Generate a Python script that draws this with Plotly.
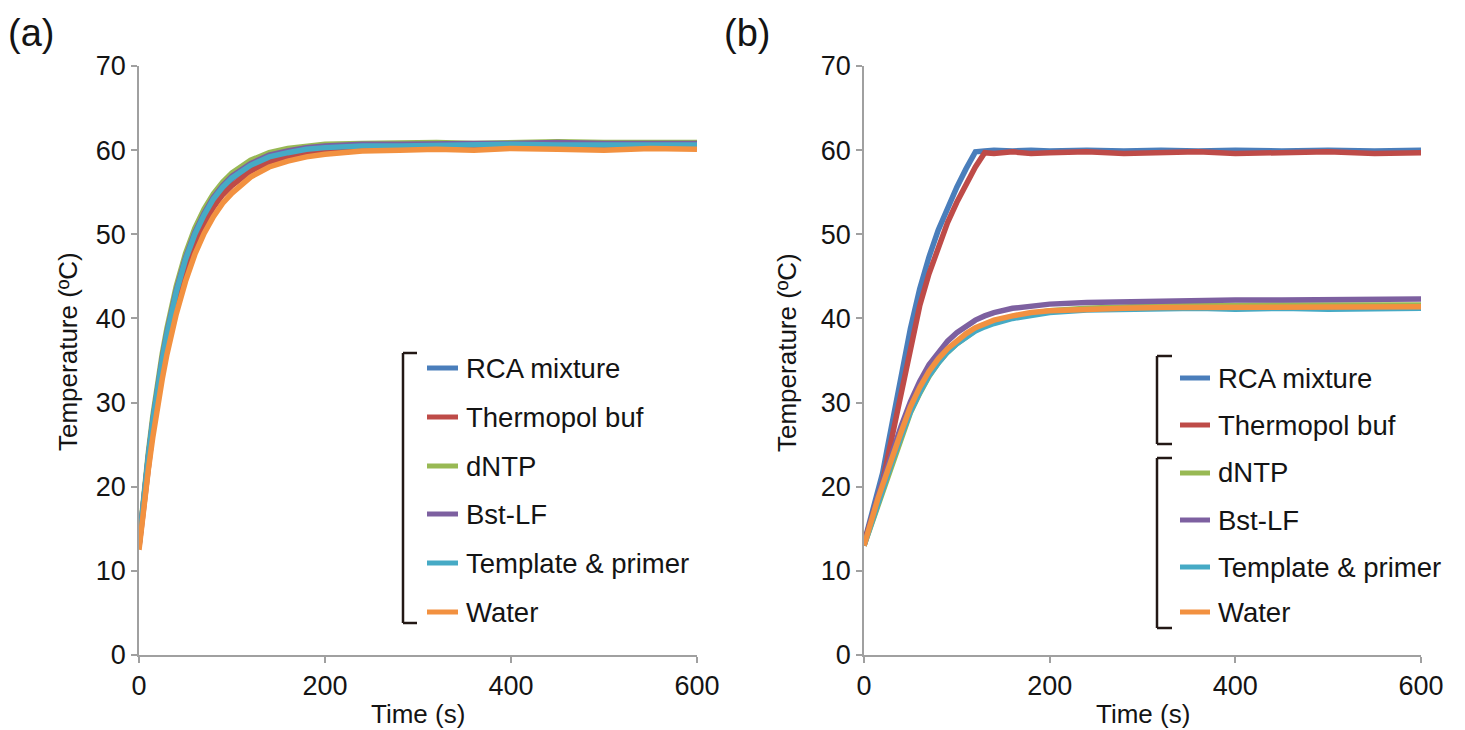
import plotly.graph_objects as go

# Page has an 8px body margin; the figure is offset by it inside the 1465x730 window.
OFF = 8
W, H = 1465 - OFF, 730 - OFF

series_names = ["RCA mixture", "Thermopol buf", "dNTP", "Bst-LF", "Template & primer", "Water"]
colors = ["#4A7EBB", "#BE4B48", "#98B954", "#7D60A0", "#46AAC5", "#F29140"]

# ---------------- Panel (a) data ----------------
time_a = [0, 5, 10, 15, 20, 25, 30, 40, 50, 60, 70, 80, 90, 100, 120, 140, 160, 180, 200,
          240, 280, 320, 360, 400, 450, 500, 550, 600]
a_rca = [13.1, 18.6, 23.4, 27.8, 31.6, 35.0, 38.0, 43.0, 46.9, 49.9, 52.2, 54.1, 55.5, 56.6, 58.1, 59.1, 59.6, 60.0, 60.2,
         60.4, 60.5, 60.5, 60.6, 60.6, 60.6, 60.6, 60.6, 60.6]
a_thermo = [12.8, 18.0, 22.7, 26.9, 30.6, 33.9, 36.9, 41.8, 45.7, 48.8, 51.2, 53.2, 54.7, 55.8, 57.5, 58.6, 59.2, 59.6, 59.9,
            60.2, 60.3, 60.3, 60.4, 60.4, 60.4, 60.3, 60.4, 60.4]
a_dntp = [13.2, 19.0, 24.0, 28.5, 32.4, 35.8, 38.8, 43.8, 47.7, 50.7, 53.0, 54.8, 56.2, 57.3, 58.8, 59.7, 60.2, 60.5, 60.7,
          60.8, 60.9, 60.9, 60.8, 60.9, 61.0, 60.9, 60.9, 60.9]
a_bst = [13.0, 18.7, 23.6, 28.0, 31.9, 35.3, 38.3, 43.3, 47.2, 50.2, 52.5, 54.4, 55.8, 56.9, 58.4, 59.4, 59.9, 60.3, 60.5,
         60.7, 60.7, 60.8, 60.8, 60.8, 60.9, 60.8, 60.8, 60.8]
a_template = [13.0, 18.6, 23.5, 27.9, 31.7, 35.1, 38.1, 43.1, 47.0, 50.0, 52.3, 54.2, 55.6, 56.7, 58.2, 59.2, 59.7, 60.1, 60.3,
              60.5, 60.5, 60.6, 60.6, 60.7, 60.6, 60.6, 60.7, 60.6]
a_water = [12.5, 17.5, 22.0, 26.0, 29.6, 32.8, 35.7, 40.5, 44.4, 47.6, 50.1, 52.1, 53.7, 54.9, 56.8, 58.0, 58.7, 59.2, 59.5,
           59.9, 60.0, 60.1, 60.0, 60.2, 60.1, 60.0, 60.2, 60.1]

# ---------------- Panel (b) data ----------------
time_b = [0, 5, 10, 15, 20, 25, 30, 40, 50, 60, 70, 80, 90, 100, 110, 120, 130, 140, 160, 180, 200,
          240, 280, 320, 360, 400, 450, 500, 550, 600]
b_rca = [13.3, 15.4, 17.3, 19.3, 21.6, 24.5, 27.3, 33.0, 38.8, 43.5, 47.3, 50.5, 53.2, 55.6, 57.8, 59.8, 59.9, 60.0, 59.9, 60.0, 59.9,
         60.0, 59.9, 60.0, 59.9, 60.0, 59.9, 60.0, 59.9, 60.0]
b_thermo = [13.3, 15.0, 16.8, 18.6, 20.6, 23.2, 25.8, 31.2, 36.7, 41.5, 45.3, 48.6, 51.4, 53.8, 56.0, 58.0, 59.7, 59.6, 59.8, 59.6, 59.7,
            59.8, 59.6, 59.7, 59.8, 59.6, 59.7, 59.8, 59.6, 59.7]
b_dntp = [13.0, 14.6, 16.3, 18.0, 19.6, 21.2, 22.8, 25.9, 28.8, 31.1, 33.1, 34.7, 36.0, 37.0, 37.9, 38.6, 39.2, 39.6, 40.2, 40.6, 40.9,
          41.2, 41.4, 41.5, 41.5, 41.6, 41.6, 41.6, 41.6, 41.6]
b_bst = [13.0, 15.1, 17.1, 18.9, 20.6, 22.3, 24.0, 27.2, 30.1, 32.5, 34.5, 36.0, 37.3, 38.3, 39.1, 39.8, 40.3, 40.7, 41.2, 41.5, 41.7,
         41.9, 42.0, 42.1, 42.2, 42.2, 42.2, 42.2, 42.3, 42.3]
b_template = [13.0, 14.7, 16.4, 18.1, 19.7, 21.3, 22.9, 26.0, 28.9, 31.2, 33.2, 34.7, 36.0, 37.0, 37.8, 38.5, 39.0, 39.4, 40.0, 40.4, 40.7,
              41.0, 41.1, 41.1, 41.2, 41.1, 41.2, 41.1, 41.2, 41.2]
b_water = [13.0, 15.0, 16.9, 18.6, 20.2, 21.9, 23.5, 26.5, 29.5, 31.8, 33.7, 35.2, 36.4, 37.4, 38.2, 38.9, 39.4, 39.8, 40.3, 40.7, 40.9,
           41.1, 41.2, 41.3, 41.3, 41.4, 41.3, 41.4, 41.4, 41.4]

x_ticks = [0, 200, 400, 600]
y_ticks = [0, 10, 20, 30, 40, 50, 60, 70]
x_title = "Time (s)"
y_title = "Temperature (ºC)"
panel_labels = ["(a)", "(b)"]

data_a = [a_rca, a_thermo, a_dntp, a_bst, a_template, a_water]
data_b = [b_rca, b_thermo, b_dntp, b_bst, b_template, b_water]

FONT = "Liberation Sans, Arial, sans-serif"
TXT = "#141414"


def px(x):
    # window pixel -> paper fraction
    return (x - OFF) / W


def py(y):
    return 1 - (y - OFF) / H


fig = go.Figure()
for name, col, ys in zip(series_names, colors, data_a):
    fig.add_trace(go.Scatter(x=time_a, y=ys, mode="lines", name=name, showlegend=False,
                             line=dict(color=col, width=5.5), xaxis="x", yaxis="y"))
for name, col, ys in zip(series_names, colors, data_b):
    fig.add_trace(go.Scatter(x=time_b, y=ys, mode="lines", name=name, showlegend=False,
                             line=dict(color=col, width=5.5), xaxis="x2", yaxis="y2"))

axis_common = dict(showline=True, linecolor="#A0A0A0", linewidth=1.5, ticks="outside",
                   ticklen=6, tickcolor="#A0A0A0", tickwidth=1.5, showgrid=False, zeroline=False,
                   automargin=False,
                   tickfont=dict(family=FONT, size=27, color=TXT))

y_dom = [py(655), py(66)]
fig.update_layout(
    width=W, height=H, autosize=False,
    paper_bgcolor="white", plot_bgcolor="white",
    margin=dict(l=0, r=0, t=0, b=0, pad=0),
    font=dict(family=FONT, color=TXT),
    xaxis=dict(domain=[px(139), px(697)], range=[0, 600], tickvals=x_ticks, anchor="y", **axis_common),
    yaxis=dict(domain=y_dom, range=[0, 70], tickvals=y_ticks, anchor="x", **axis_common),
    xaxis2=dict(domain=[px(864), px(1421)], range=[0, 600], tickvals=x_ticks, anchor="y2", **axis_common),
    yaxis2=dict(domain=y_dom, range=[0, 70], tickvals=y_ticks, anchor="x2", **axis_common),
)

annotations = []
shapes = []

# axis titles and panel labels
for xc_title, xc_ytitle, (lx, ly), lab in [(418, 68, (31, 33), panel_labels[0]),
                                             (1143, 787, (747, 33), panel_labels[1])]:
    annotations.append(dict(x=px(xc_title), y=py(714), xref="paper", yref="paper", text=x_title,
                            showarrow=False, font=dict(family=FONT, size=26, color=TXT),
                            xanchor="center", yanchor="middle"))
    annotations.append(dict(x=px(xc_ytitle), y=py(352), xref="paper", yref="paper", text=y_title,
                            showarrow=False, textangle=-90, font=dict(family=FONT, size=26, color=TXT),
                            xanchor="center", yanchor="middle"))
    annotations.append(dict(x=px(lx), y=py(ly), xref="paper", yref="paper", text=lab,
                            showarrow=False, font=dict(family=FONT, size=38, color=TXT),
                            xanchor="center", yanchor="middle"))


def bracket(x0, x1, y0, y1):
    c = "#231815"
    w = 2.5
    shapes.append(dict(type="line", xref="paper", yref="paper", x0=px(x0), x1=px(x0), y0=py(y0), y1=py(y1),
                       line=dict(color=c, width=w)))
    shapes.append(dict(type="line", xref="paper", yref="paper", x0=px(x0), x1=px(x1), y0=py(y0), y1=py(y0),
                       line=dict(color=c, width=w)))
    shapes.append(dict(type="line", xref="paper", yref="paper", x0=px(x0), x1=px(x1), y0=py(y1), y1=py(y1),
                       line=dict(color=c, width=w)))


def legend_entries(sx0, sx1, tx, ys):
    for name, col, y in zip(series_names, colors, ys):
        shapes.append(dict(type="line", xref="paper", yref="paper", x0=px(sx0), x1=px(sx1), y0=py(y), y1=py(y),
                           line=dict(color=col, width=5)))
        annotations.append(dict(x=px(tx), y=py(y), xref="paper", yref="paper", text=name, showarrow=False,
                                font=dict(family=FONT, size=27.5, color=TXT), xanchor="left", yanchor="middle"))


# legend (a)
bracket(403, 417, 353, 623)
legend_entries(427, 458, 464, [368, 417, 466, 514, 563, 612])

# legend (b)
bracket(1157, 1172, 356, 444)
bracket(1157, 1172, 458, 628)
legend_entries(1180, 1210, 1216, [378, 425, 473, 520, 567, 612])

fig.update_layout(annotations=annotations, shapes=shapes)

fig.write_html("out.html")
